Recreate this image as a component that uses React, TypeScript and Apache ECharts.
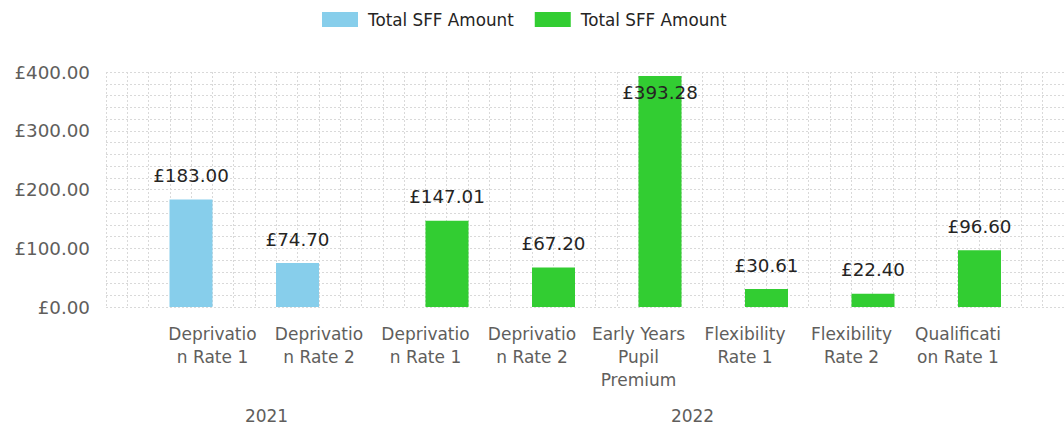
import React, { useEffect, useRef } from "react";
import * as echarts from "echarts";

const legendLabel = "Total SFF Amount";
const seriesNames = ["2021", "2022"];
const groupLabels = ["2021", "2022"];
const categories = [
  "Deprivatio\nn Rate 1",
  "Deprivatio\nn Rate 2",
  "Deprivatio\nn Rate 1",
  "Deprivatio\nn Rate 2",
  "Early Years\nPupil\nPremium",
  "Flexibility\nRate 1",
  "Flexibility\nRate 2",
  "Qualificati\non Rate 1",
];
const values2021 = [183.0, 74.7, null, null, null, null, null, null];
const values2022 = [null, null, 147.01, 67.2, 393.28, 30.61, 22.4, 96.6];
const yTickValues = [0, 100, 200, 300, 400];
const yTickLabels = ["£0.00", "£100.00", "£200.00", "£300.00", "£400.00"];

const FONT = "DejaVu Sans";
const AXIS_GREY = "#605E5C";
const DARK = "#252423";
const GRID_LINE = "#d9d9d9";

const money = (v: number) => "£" + v.toFixed(2);

export default function App() {
  const ref = useRef<HTMLDivElement>(null);
  useEffect(() => {
    document.body.style.margin = "0";
    if (!ref.current) return;
    const chart = echarts.init(ref.current, undefined, { renderer: "svg" });
    const plotTop = 72;
    const plotHeight = 235;
    const dataLabel = {
      show: true,
      position: "top" as const,
      distance: 15,
      formatter: (p: any) => money(p.value),
      color: DARK,
      fontFamily: FONT,
      fontSize: 18.3,
    };
    const prep = (arr: (number | null)[]) =>
      arr.map((v) =>
        v !== null && v > 350
          ? { value: v, label: { position: "insideTop", distance: 8 } }
          : v === null
          ? "-"
          : v
      );
    chart.setOption({
      animation: false,
      legend: {
        data: seriesNames,
        left: 317,
        top: 6,
        itemWidth: 36,
        itemHeight: 15,
        itemGap: 21,
        icon: "rect",
        formatter: () => legendLabel,
        textStyle: {
          color: DARK,
          fontFamily: FONT,
          fontSize: 16.8,
          padding: [0, 0, 0, 5],
        },
      },
      grid: [
        { left: 106, top: plotTop, width: 960, height: plotHeight },
        { left: 159.25, top: plotTop, width: 852, height: plotHeight },
      ],
      xAxis: [
        {
          type: "value",
          gridIndex: 0,
          min: 0,
          max: 45,
          interval: 1,
          axisLabel: { show: false },
          axisLine: { show: false },
          axisTick: { show: false },
          splitLine: {
            show: true,
            lineStyle: { color: GRID_LINE, type: [2, 2], width: 1 },
          },
        },
        {
          type: "category",
          gridIndex: 1,
          data: categories,
          axisLine: { show: false },
          axisTick: { show: false },
          axisLabel: {
            color: AXIS_GREY,
            fontFamily: FONT,
            fontSize: 17,
            lineHeight: 23,
            margin: 15,
            interval: 0,
          },
        },
      ],
      yAxis: [
        {
          type: "value",
          gridIndex: 0,
          min: 0,
          max: 400,
          interval: 20,
          axisLine: { show: false },
          axisTick: { show: false },
          axisLabel: {
            color: AXIS_GREY,
            fontFamily: FONT,
            fontSize: 18.3,
            margin: 16,
            formatter: (v: number) => {
              const i = yTickValues.indexOf(v);
              return i >= 0 ? yTickLabels[i] : "";
            },
          },
          splitLine: {
            show: true,
            lineStyle: { color: GRID_LINE, type: [2, 2], width: 1 },
          },
        },
        {
          type: "value",
          gridIndex: 1,
          min: 0,
          max: 400,
          interval: 20,
          show: false,
        },
      ],
      graphic: [
        {
          type: "text",
          x: 266.5,
          y: 416,
          style: {
            text: groupLabels[0],
            align: "center",
            verticalAlign: "middle",
            fill: AXIS_GREY,
            fontFamily: FONT,
            fontSize: 17,
          },
        },
        {
          type: "text",
          x: 692.5,
          y: 416,
          style: {
            text: groupLabels[1],
            align: "center",
            verticalAlign: "middle",
            fill: AXIS_GREY,
            fontFamily: FONT,
            fontSize: 17,
          },
        },
      ],
      series: [
        {
          name: seriesNames[0],
          type: "bar",
          xAxisIndex: 1,
          yAxisIndex: 1,
          barWidth: 43,
          barGap: "0%",
          itemStyle: { color: "#87CEEB" },
          label: dataLabel,
          data: prep(values2021),
        },
        {
          name: seriesNames[1],
          type: "bar",
          xAxisIndex: 1,
          yAxisIndex: 1,
          barWidth: 43,
          barGap: "0%",
          itemStyle: { color: "#32CD32" },
          label: dataLabel,
          data: prep(values2022),
        },
      ],
    });
    return () => chart.dispose();
  }, []);
  return <div ref={ref} style={{ width: 1064, height: 427 }} />;
}
